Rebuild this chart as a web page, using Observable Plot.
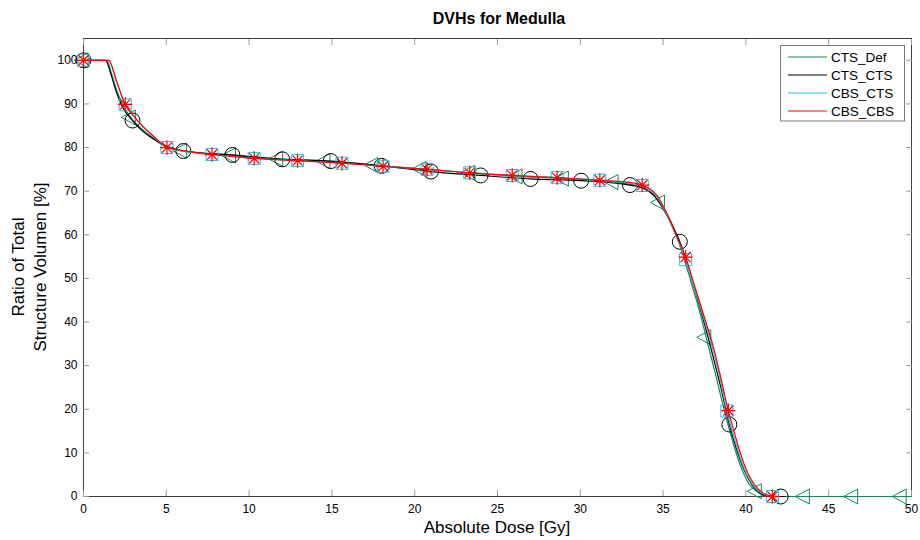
<!DOCTYPE html>
<html><head><meta charset="utf-8">
<script src="https://cdn.jsdelivr.net/npm/d3@7"></script>
<script src="https://cdn.jsdelivr.net/npm/@observablehq/plot@0.6"></script>
<style>body{margin:0;background:#fff} svg{display:block}</style>
</head><body><div id="chart"></div>
<script>
const chartTitle = "DVHs for Medulla";
const xLabel = "Absolute Dose [Gy]";
const yLabelLines = ["Ratio of Total", "Structure Volumen [%]"];
const seriesNames = ["CTS_Def", "CTS_CTS", "CBS_CTS", "CBS_CBS"];
const seriesColors = ["#13885a", "#000000", "#1fc3e6", "#ff0000"];
const xTicks = [0, 5, 10, 15, 20, 25, 30, 35, 40, 45, 50];
const yTicks = [0, 10, 20, 30, 40, 50, 60, 70, 80, 90, 100];

// CTS_Def (green)
const ctsDefDose = [0, 1.4, 1.7, 2.0, 2.4, 2.85, 3.5, 4.2, 5.0, 5.95, 8.9, 11.75, 14.6, 17.5, 20.4, 23.35, 26.2, 29.0, 32.0, 33.4, 34.2, 34.8, 35.4, 35.9, 36.2, 36.7, 37.2, 37.6, 38.2, 38.7, 39.15, 39.65, 40.2, 40.65, 41.0, 41.3, 50];
const ctsDefVol  = [100, 100, 96.8, 93.2, 89.6, 86.9, 84.3, 82.2, 80.4, 79.3, 78.2, 77.4, 76.9, 76.0, 75.1, 74.2, 73.4, 72.9, 72.1, 71.2, 69.8, 67.4, 63.6, 58.8, 55.4, 49.0, 42.5, 36.5, 27.5, 19.7, 13.3, 7.3, 2.8, 1.2, 0.3, 0, 0];
const ctsDefMarkDose = [0, 2.85, 5.95, 8.9, 11.75, 14.6, 17.5, 20.4, 23.35, 26.2, 29.0, 32.0, 34.8, 37.6, 40.65, 43.55, 46.47, 49.4];
const ctsDefMarkVol  = [100, 86.9, 79.3, 78.2, 77.4, 76.9, 76.0, 75.1, 74.2, 73.4, 72.9, 72.1, 67.4, 36.5, 1.2, 0, 0, 0];

// CTS_CTS (black)
const ctsCtsDose = [0, 1.33, 1.65, 1.95, 2.35, 2.96, 3.5, 4.05, 5.0, 6.03, 8.99, 12.0, 14.93, 18.0, 20.98, 23.98, 27.0, 30.05, 33.0, 33.8, 34.5, 35.1, 35.6, 36.01, 36.5, 37.0, 37.5, 38.0, 38.5, 39.0, 39.4, 39.9, 40.4, 40.9, 41.4, 42.1, 42.4];
const ctsCtsVol  = [100, 100, 96.9, 93.1, 89.3, 86.2, 84.0, 82.4, 80.2, 79.2, 78.3, 77.3, 76.9, 75.8, 74.5, 73.6, 72.8, 72.4, 71.4, 70.7, 68.8, 65.3, 61.8, 58.4, 52.8, 46.3, 39.6, 32.3, 24.8, 16.5, 11.3, 6.0, 2.5, 0.7, 0.1, 0, 0];
const ctsCtsMarkDose = [0, 2.96, 6.03, 8.99, 12.0, 14.93, 18.0, 20.98, 23.98, 27.0, 30.05, 33.0, 36.01, 39.0, 42.1];
const ctsCtsMarkVol  = [100, 86.2, 79.2, 78.3, 77.3, 76.9, 75.8, 74.5, 73.6, 72.8, 72.4, 71.4, 58.4, 16.5, 0];

// CBS_CTS (cyan)
const cbsCtsDose = [0, 1.5, 2.0, 2.52, 3.0, 3.5, 4.2, 5.04, 6.0, 7.76, 10.31, 12.93, 15.61, 18.09, 20.75, 23.32, 25.89, 28.6, 31.18, 33.0, 33.74, 34.65, 35.25, 35.86, 36.36, 36.86, 37.46, 38.03, 38.45, 38.85, 39.3, 39.8, 40.4, 41.1, 41.6];
const cbsCtsVol  = [100, 100, 95.0, 89.8, 87.3, 85.1, 82.6, 80.0, 79.2, 78.4, 77.5, 77.0, 76.4, 75.7, 75.0, 74.2, 73.6, 73.1, 72.5, 71.9, 71.3, 68.6, 64.3, 59.0, 54.3, 48.2, 40.8, 33.3, 26.9, 19.6, 13.4, 7.3, 2.8, 0.5, 0];
const cbsCtsMarkDose = [0, 2.52, 5.04, 7.76, 10.31, 12.93, 15.61, 18.09, 20.75, 23.32, 25.89, 28.6, 31.18, 33.74, 36.36, 38.85, 41.6];
const cbsCtsMarkVol  = [100, 89.8, 80.0, 78.4, 77.5, 77.0, 76.4, 75.7, 75.0, 74.2, 73.6, 73.1, 72.5, 71.3, 54.3, 19.6, 0];

// CBS_CBS (red)
const cbsCbsDose = [0, 1.53, 2.0, 2.52, 3.0, 3.5, 4.2, 5.04, 6.0, 7.76, 10.31, 12.93, 15.61, 18.09, 20.75, 23.32, 25.89, 28.6, 31.18, 33.0, 33.74, 34.65, 35.25, 35.86, 36.36, 36.86, 37.46, 38.03, 38.45, 38.94, 39.38, 39.88, 40.48, 41.19, 41.6, 42.0];
const cbsCbsVol  = [100, 100, 95.2, 89.9, 87.4, 85.2, 82.7, 80.0, 79.3, 78.4, 77.5, 77.0, 76.4, 75.7, 75.0, 74.2, 73.6, 73.1, 72.5, 72.0, 71.4, 68.9, 64.7, 59.3, 54.9, 48.8, 41.5, 34.3, 27.8, 19.7, 13.6, 7.5, 2.9, 0.5, 0, 0];
const cbsCbsMarkDose = [0, 2.52, 5.04, 7.76, 10.31, 12.93, 15.61, 18.09, 20.75, 23.32, 25.89, 28.6, 31.18, 33.74, 36.36, 38.94, 41.6];
const cbsCbsMarkVol  = [100, 89.9, 80.0, 78.4, 77.5, 77.0, 76.4, 75.7, 75.0, 74.2, 73.6, 73.1, 72.5, 71.4, 54.9, 19.7, 0];

// custom MATLAB-like markers
const symLeftTri = {draw(ctx, size) { const r = Math.sqrt(size / Math.PI);
  ctx.moveTo(-1.25 * r, 0); ctx.lineTo(0.62 * r, -r); ctx.lineTo(0.62 * r, r); ctx.closePath(); }};
const symSquare = {draw(ctx, size) { const r = Math.sqrt(size / Math.PI), h = 0.8 * r;
  ctx.moveTo(-h, -h); ctx.lineTo(h, -h); ctx.lineTo(h, h); ctx.lineTo(-h, h); ctx.closePath(); }};
const symStar = {draw(ctx, size) { const r = Math.sqrt(size / Math.PI), a = 0.95 * r, b = a * Math.SQRT1_2;
  ctx.moveTo(-a, 0); ctx.lineTo(a, 0); ctx.moveTo(0, -a); ctx.lineTo(0, a);
  ctx.moveTo(-b, -b); ctx.lineTo(b, b); ctx.moveTo(-b, b); ctx.lineTo(b, -b); }};
const seriesSymbols = [symLeftTri, "circle", symSquare, symStar];

const lineDose = [ctsDefDose, ctsCtsDose, cbsCtsDose, cbsCbsDose];
const lineVol = [ctsDefVol, ctsCtsVol, cbsCtsVol, cbsCbsVol];
const markDose = [ctsDefMarkDose, ctsCtsMarkDose, cbsCtsMarkDose, cbsCbsMarkDose];
const markVol = [ctsDefMarkVol, ctsCtsMarkVol, cbsCtsMarkVol, cbsCbsMarkVol];

const tickStroke = "#9a9a9a";
const marks = [
  Plot.frame({stroke: "#404040"}),
  Plot.axisX(xTicks, {anchor: "bottom", tickSize: -6, tickFormat: () => "", stroke: tickStroke, label: null}),
  Plot.axisX(xTicks, {anchor: "top", tickSize: -6, tickFormat: () => "", stroke: tickStroke, label: null}),
  Plot.axisY(yTicks, {anchor: "left", tickSize: -6, tickFormat: () => "", stroke: tickStroke, label: null}),
  Plot.axisY(yTicks, {anchor: "right", tickSize: -6, tickFormat: () => "", stroke: tickStroke, label: null}),
  Plot.axisX(xTicks, {anchor: "bottom", tickSize: 0, tickPadding: 8, fontSize: 12, label: null}),
  Plot.axisY(yTicks, {anchor: "left", tickSize: 0, tickPadding: 6, fontSize: 12, label: null})
];
seriesNames.forEach((name, s) => {
  const rows = lineDose[s].map((d, i) => ({series: name, dose: d, vol: lineVol[s][i]}));
  const mrows = markDose[s].map((d, i) => ({series: name, dose: d, vol: markVol[s][i]}));
  marks.push(Plot.line(rows, {x: "dose", y: "vol", stroke: seriesColors[s], strokeWidth: 1.2, curve: "monotone-x"}));
  marks.push(Plot.dot(mrows, {x: "dose", y: "vol", symbol: seriesSymbols[s], r: 7.5, stroke: seriesColors[s], fill: "none", strokeWidth: s === 3 ? 1.2 : 1}));
});

const svgNode = Plot.plot({
  width: 920, height: 540,
  marginLeft: 83, marginRight: 9, marginTop: 38, marginBottom: 44,
  x: {domain: [0, 50], label: null},
  y: {domain: [0, 105], label: null},
  style: {fontFamily: "'Liberation Sans', Arial, Helvetica, sans-serif", fontSize: "12px", background: "#fff", color: "#000", overflow: "visible"},
  marks
});
document.getElementById("chart").appendChild(svgNode);

const svg = d3.select(svgNode);
const ff = "'Liberation Sans', Arial, Helvetica, sans-serif";
svg.append("text").attr("x", 499).attr("y", 24).attr("text-anchor", "middle")
  .attr("font-family", ff).attr("font-size", 16).attr("font-weight", "bold").attr("fill", "#000").text(chartTitle);
svg.append("text").attr("x", 497).attr("y", 533).attr("text-anchor", "middle")
  .attr("font-family", ff).attr("font-size", 17).attr("fill", "#000").text(xLabel);
const yl = svg.append("text").attr("transform", "translate(0,267) rotate(-90)").attr("text-anchor", "middle")
  .attr("font-family", ff).attr("font-size", 17).attr("fill", "#000");
yLabelLines.forEach((t, i) => yl.append("tspan").attr("x", 0).attr("y", 24 + i * 22).text(t));

// legend
const lg = svg.append("g").attr("font-family", ff).attr("font-size", 13.5).attr("text-anchor", "start");
lg.append("rect").attr("x", 780.5).attr("y", 45.5).attr("width", 124).attr("height", 75.5)
  .attr("fill", "#fff").attr("stroke", "#7a7a7a");
seriesNames.forEach((name, s) => {
  const cy = 57 + s * 18;
  lg.append("line").attr("x1", 788).attr("x2", 827).attr("y1", cy).attr("y2", cy)
    .attr("stroke", seriesColors[s]).attr("stroke-width", 1.2);
  lg.append("text").attr("x", 831).attr("y", cy).attr("dy", "0.35em").attr("text-anchor", "start").attr("fill", "#000").text(name);
});
</script></body></html>
